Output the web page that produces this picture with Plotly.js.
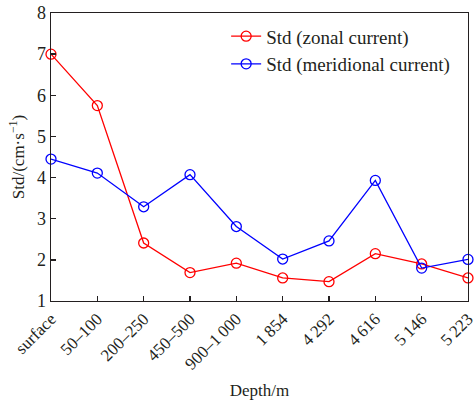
<!DOCTYPE html>
<html><head><meta charset="utf-8">
<script src="https://cdn.plot.ly/plotly-3.0.1.min.js"></script>
<style>body{margin:0;background:#fff}#c{width:476px;height:400px}</style>
</head><body><div id="c"></div>
<script>
const depths = ["surface","50\u2013100","200\u2013250","450\u2013500","900\u20131\u2009000","1\u2009854","4\u2009292","4\u2009616","5\u2009146","5\u2009223"];
const zonalStd = [7.0, 5.75, 2.41, 1.69, 1.92, 1.56, 1.47, 2.15, 1.90, 1.56];
const meridStd = [4.45, 4.11, 3.29, 4.07, 2.81, 2.02, 2.46, 3.93, 1.80, 2.01];

const idx = depths.map((d,i)=>i);
const mk = (name, y, color) => ({
  type:'scatter', mode:'lines+markers', name, x: idx, y,
  line:{color, width:1.3},
  marker:{symbol:'circle-open', size:10, color, line:{width:1.3, color}},
  cliponaxis:false
});
const axisCommon = {showline:true, linecolor:'#231f20', linewidth:1.3, mirror:true, ticks:'inside', ticklen:5, tickcolor:'#231f20', tickwidth:1.3, showgrid:false, zeroline:false, ticklabeloverflow:'allow', automargin:false};
Plotly.newPlot('c', [mk('Std (zonal current)', zonalStd, '#ff0000'), mk('Std (meridional current)', meridStd, '#0000ff')], {
  width:476, height:400,
  margin:{l:51, r:8, t:13, b:99},
  paper_bgcolor:'#fff', plot_bgcolor:'#fff',
  font:{family:'Liberation Serif', size:17, color:'#231f20'},
  xaxis: Object.assign({}, axisCommon, {range:[0,9], tickmode:'array', tickvals: idx, ticktext: depths, tickangle:-45,
    tickfont:{family:'Liberation Serif', size:17, color:'#231f20'},
    title:{text:'Depth/m', font:{family:'Liberation Serif', size:17}, standoff:12}}),
  yaxis: Object.assign({}, axisCommon, {range:[1,8], dtick:1,
    tickfont:{family:'Liberation Serif', size:18, color:'#231f20'},
    title:{text:'Std/(cm\u00b7s<sup>\u22121</sup>)', font:{family:'Liberation Serif', size:17}, standoff:8}}),
  showlegend:true,
  legend:{x:0.42, y:0.985, xanchor:'left', yanchor:'top', bgcolor:'rgba(0,0,0,0)', borderwidth:0, font:{family:'Liberation Serif', size:19, color:'#231f20'}, tracegroupgap:4}
}, {displayModeBar:false, staticPlot:true});
</script></body></html>
